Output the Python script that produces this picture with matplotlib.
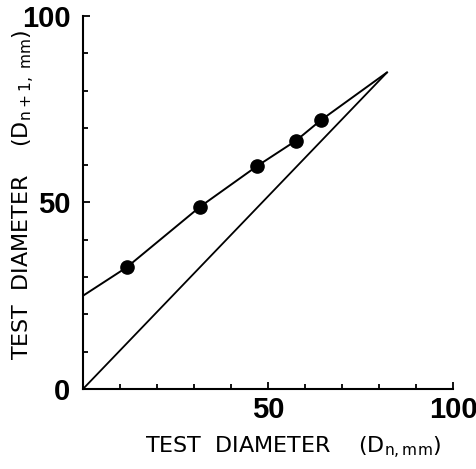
import matplotlib
matplotlib.use("Agg")
import matplotlib.pyplot as plt

# measured points (Dn, Dn+1)
pts_x = [11.8, 31.7, 47.1, 57.6, 64.2]
pts_y = [32.6, 48.9, 59.8, 66.6, 72.0]

# fitted curve
curve_x = [0, 11.8, 31.7, 47.1, 57.6, 64.2, 82.2]
curve_y = [25.0, 32.6, 48.9, 59.8, 66.6, 72.0, 84.9]

# reference line Dn+1 = Dn
ref_x = [0, 82.2]
ref_y = [0, 84.9]

tick_vals = [0, 50, 100]
minor_vals = [10, 20, 30, 40, 60, 70, 80, 90]

plt.rcParams['font.family'] = ['Liberation Sans', 'DejaVu Sans']

fig = plt.figure(figsize=(4.77, 4.69), dpi=100)
ax = fig.add_axes([0.174, 0.1706, 0.7757, 0.7953])

ax.plot(curve_x, curve_y, color="black", lw=1.4, solid_capstyle="butt")
ax.plot(ref_x, ref_y, color="black", lw=1.3)
ax.plot(pts_x, pts_y, "o", color="black", markersize=9.5)

ax.set_xlim(0, 100)
ax.set_ylim(0, 100)

for s in ["top", "right"]:
    ax.spines[s].set_visible(False)
for s in ["left", "bottom"]:
    ax.spines[s].set_linewidth(1.5)

ax.set_xticks(tick_vals)
ax.set_xticklabels(["", "50", "100"], fontsize=21, fontweight="bold")
ax.set_yticks(tick_vals)
ax.set_yticklabels(["0", "50", "100"], fontsize=21, fontweight="bold")
ax.set_xticks(minor_vals, minor=True)
ax.set_yticks(minor_vals, minor=True)
ax.tick_params(which="major", direction="in", length=5, width=1.3)
ax.tick_params(which="minor", direction="in", length=3.5, width=1.3)
ax.tick_params(axis="x", which="major", pad=5)
ax.tick_params(axis="y", which="major", pad=9)

fig.text(0.614, 0.044, r"TEST  DIAMETER    (D$_{\mathrm{n,mm}}$)", fontsize=16,
         family="DejaVu Sans", ha="center", va="center")
fig.text(0.05, 0.586, r"TEST  DIAMETER    (D$_{\mathrm{n+1,\ mm}}$)", fontsize=16,
         family="DejaVu Sans", ha="center", va="center", rotation=90)

fig.savefig("out.png", dpi=100)
